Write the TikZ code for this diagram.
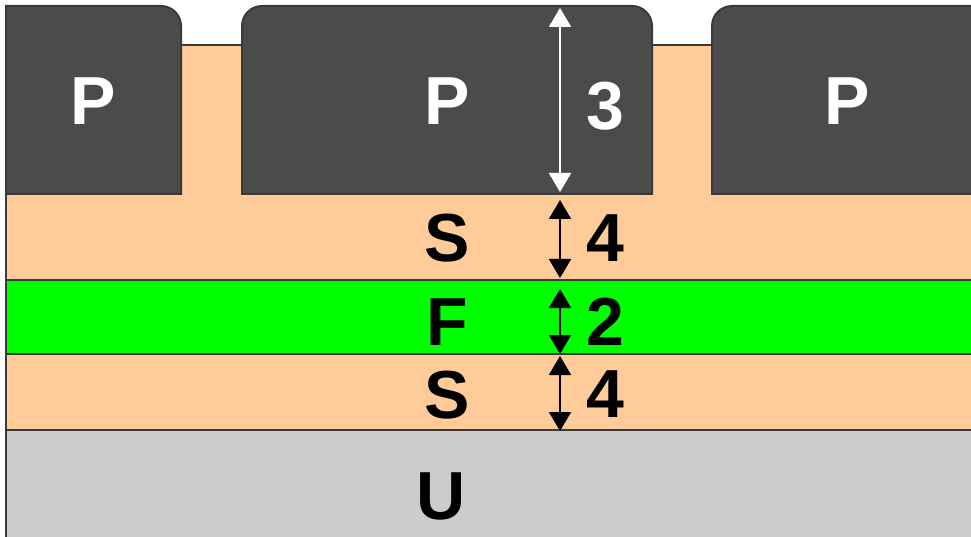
\documentclass[tikz,border=0pt]{standalone}
\usepackage{fontspec}
\setmainfont{Liberation Sans}
\usetikzlibrary{arrows.meta}
\definecolor{pgray}{HTML}{4B4B4B}
\definecolor{peach}{HTML}{FFCC99}
\definecolor{lgreen}{HTML}{00FF00}
\definecolor{ugray}{HTML}{CCCCCC}
\definecolor{edge}{HTML}{3A3A3A}
\tikzset{
  layer/.style={draw=edge, line width=2pt},
  lbl/.style={inner sep=0pt, font=\fontsize{68}{68}\selectfont\bfseries},
  dimarrow/.style={line width=2pt, {Triangle[length=19pt,width=22pt]}-{Triangle[length=19pt,width=22pt]}, shorten >=0pt, shorten <=0pt}
}
\begin{document}
\begin{tikzpicture}[x=1pt,y=-1pt]
\useasboundingbox (0,0) rectangle (971,537);
\clip (0,0) rectangle (971,537);
% layers
\draw[layer, fill=peach] (6,45) rectangle (990,280);
\draw[layer, fill=lgreen] (6,280) rectangle (990,354);
\draw[layer, fill=peach] (6,354) rectangle (990,430);
\draw[layer, fill=ugray] (6,430) rectangle (990,560);
% P blocks
\draw[layer, fill=pgray] (6,194) -- (6,6) -- (161,6) .. controls (172.05,6) and (181,14.95) .. (181,26) -- (181,194) -- cycle;
\draw[layer, fill=pgray] (242,194) -- (242,26) .. controls (242,14.95) and (250.95,6) .. (262,6) -- (632,6) .. controls (643.05,6) and (652,14.95) .. (652,26) -- (652,194) -- cycle;
\draw[layer, fill=pgray] (712,194) -- (712,26) .. controls (712,14.95) and (720.95,6) .. (732,6) -- (990,6) -- (990,194) -- cycle;
% labels
\node[lbl, text=white] (pL) at (93,101) {P};
\node[lbl, text=white] (pM) at (447,101) {P};
\node[lbl, text=white] (pR) at (847,101) {P};
\node[lbl, text=white] (d3) at (605,106) {3};
\node[lbl] (s1) at (447,238) {S};
\node[lbl] (d4a) at (605,238) {4};
\node[lbl] (f) at (447,322) {F};
\node[lbl] (d2) at (605,322) {2};
\node[lbl] (s2) at (447,395) {S};
\node[lbl] (d4b) at (605,394) {4};
\node[lbl] (u) at (441,496) {U};
% dimension arrows
\coordinate (a3t) at (560,8);
\coordinate (a3b) at (560,192);
\coordinate (a4t) at (560,200);
\coordinate (a4b) at (560,278);
\coordinate (a2t) at (560,289);
\coordinate (a2b) at (560,354);
\coordinate (a5t) at (560,356);
\coordinate (a5b) at (560,431);
\draw[dimarrow, white] (a3t) -- (a3b);
\draw[dimarrow, black] (a4t) -- (a4b);
\draw[dimarrow, black] (a2t) -- (a2b);
\draw[dimarrow, black] (a5t) -- (a5b);
\end{tikzpicture}
\end{document}
